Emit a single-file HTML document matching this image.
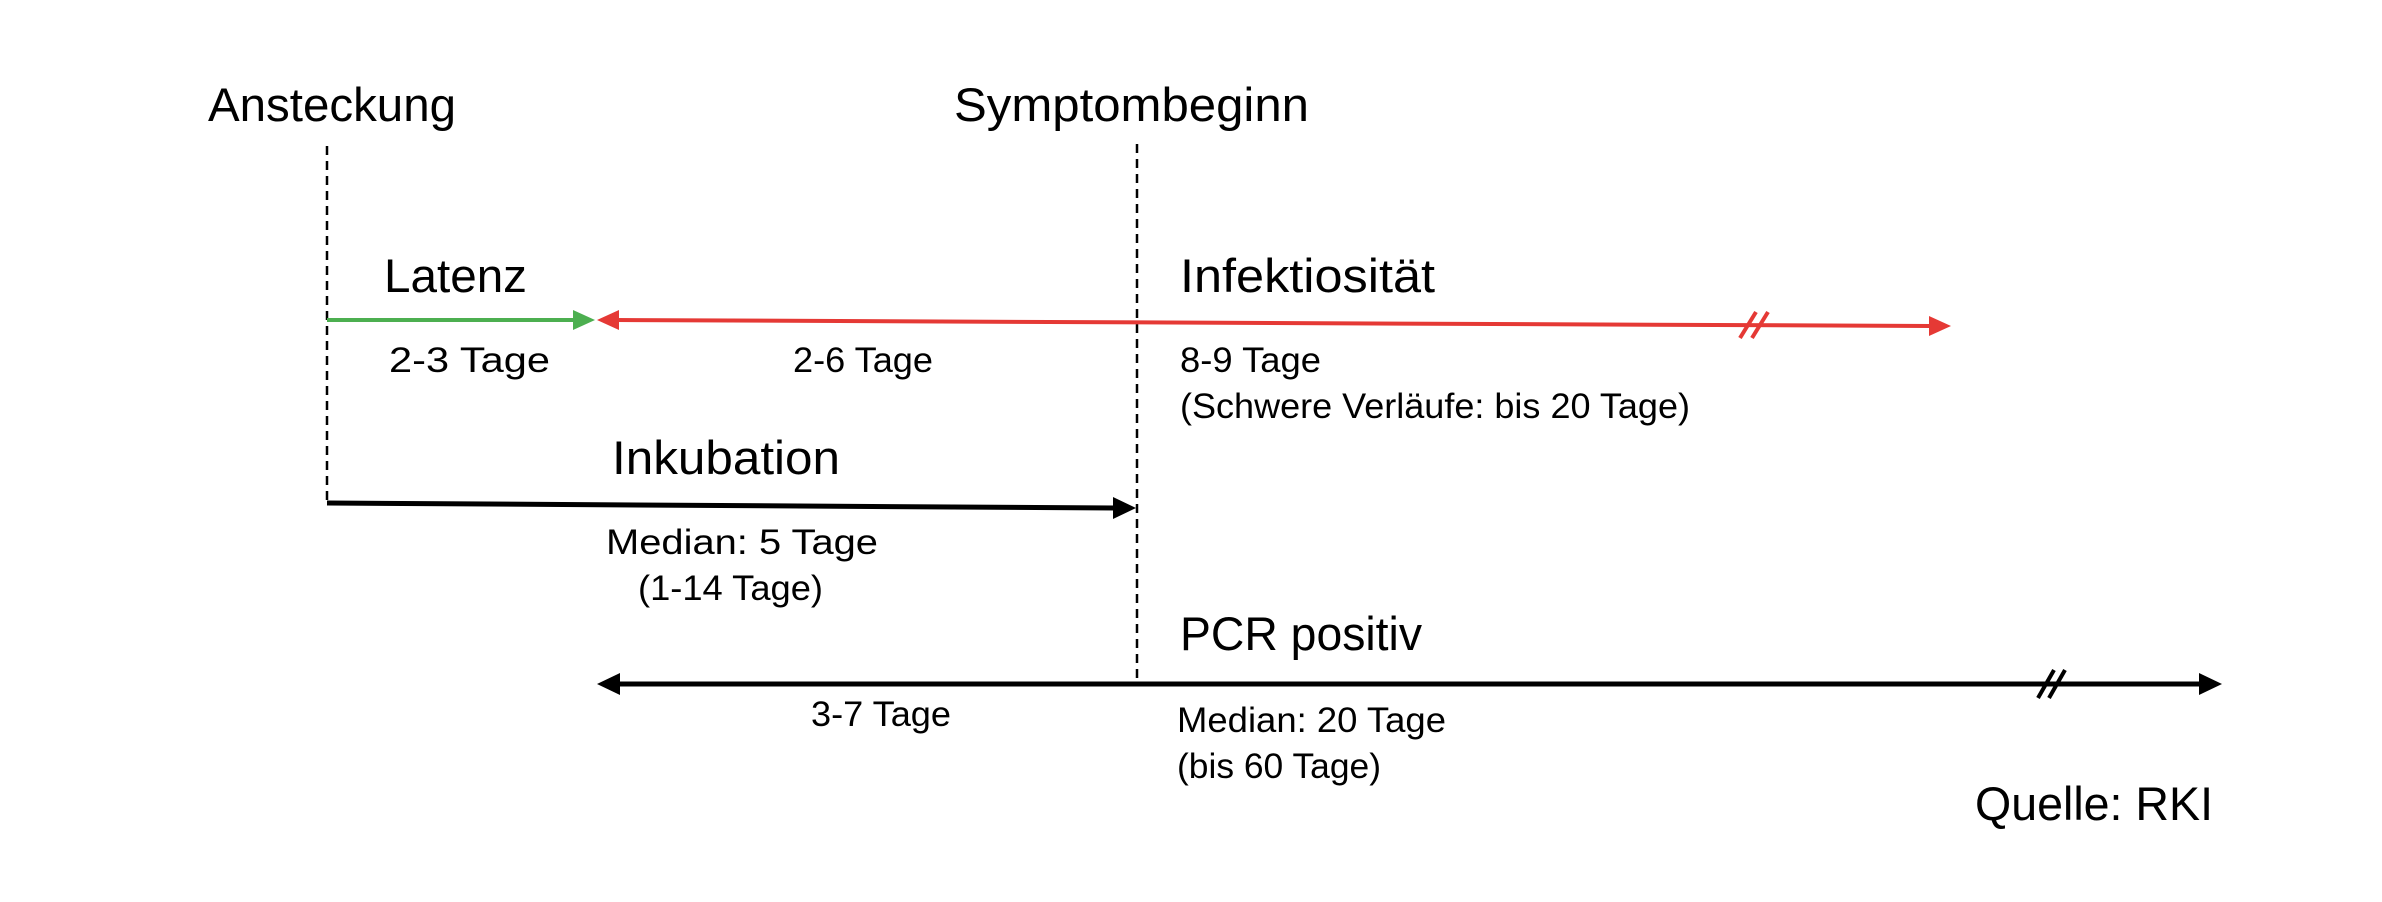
<!DOCTYPE html>
<html><head><meta charset="utf-8"><style>
html,body{margin:0;padding:0;background:#fff;}
svg{display:block;}
text{font-family:"Liberation Sans",sans-serif;fill:#000;}
.b{font-size:47px;}
.s{font-size:35px;}
</style></head><body>
<svg width="2382" height="902" viewBox="0 0 2382 902" xmlns="http://www.w3.org/2000/svg">
<text class="b" x="208" y="121" textLength="248" lengthAdjust="spacingAndGlyphs">Ansteckung</text>
<text class="b" x="954" y="121" textLength="355" lengthAdjust="spacingAndGlyphs">Symptombeginn</text>
<line x1="327" y1="146" x2="327" y2="503" stroke="#000" stroke-width="2.5" stroke-dasharray="9,6"/>
<line x1="1137" y1="144" x2="1137" y2="686" stroke="#000" stroke-width="2.5" stroke-dasharray="9,6"/>

<text class="b" x="384" y="292" textLength="143" lengthAdjust="spacingAndGlyphs">Latenz</text>
<line x1="327" y1="320" x2="575" y2="320" stroke="#4caf50" stroke-width="4"/>
<polygon points="595,320 573,310 573,330" fill="#4caf50"/>
<line x1="615" y1="320" x2="1930" y2="326" stroke="#e53935" stroke-width="4"/>
<polygon points="597,320 619,310 619,330" fill="#e53935"/>
<polygon points="1951,326 1929,316 1929,336" fill="#e53935"/>
<line x1="1740" y1="338" x2="1756" y2="312" stroke="#e53935" stroke-width="4"/>
<line x1="1752" y1="338" x2="1768" y2="312" stroke="#e53935" stroke-width="4"/>

<text class="s" x="389" y="372" textLength="161" lengthAdjust="spacingAndGlyphs">2-3 Tage</text>
<text class="s" x="793" y="372" textLength="140" lengthAdjust="spacingAndGlyphs">2-6 Tage</text>
<text class="b" x="1180" y="292" textLength="255" lengthAdjust="spacingAndGlyphs">Infektiosität</text>
<text class="s" x="1180" y="372" textLength="141" lengthAdjust="spacingAndGlyphs">8-9 Tage</text>
<text class="s" x="1180" y="418" textLength="510" lengthAdjust="spacingAndGlyphs">(Schwere Verläufe: bis 20 Tage)</text>

<text class="b" x="612" y="474" textLength="228" lengthAdjust="spacingAndGlyphs">Inkubation</text>
<line x1="327" y1="503" x2="1115" y2="508" stroke="#000" stroke-width="5"/>
<polygon points="1136,508 1113,497 1113,519" fill="#000"/>
<text class="s" x="606" y="554" textLength="272" lengthAdjust="spacingAndGlyphs">Median: 5 Tage</text>
<text class="s" x="638" y="600" textLength="185" lengthAdjust="spacingAndGlyphs">(1-14 Tage)</text>

<text class="b" x="1180" y="650" textLength="242" lengthAdjust="spacingAndGlyphs">PCR positiv</text>
<line x1="615" y1="684" x2="2200" y2="684" stroke="#000" stroke-width="5"/>
<polygon points="597,684 620,673 620,695" fill="#000"/>
<polygon points="2222,684 2199,673 2199,695" fill="#000"/>
<line x1="2038" y1="698" x2="2054" y2="670" stroke="#000" stroke-width="4"/>
<line x1="2049" y1="698" x2="2065" y2="670" stroke="#000" stroke-width="4"/>
<text class="s" x="811" y="726" textLength="140" lengthAdjust="spacingAndGlyphs">3-7 Tage</text>
<text class="s" x="1177" y="732" textLength="269" lengthAdjust="spacingAndGlyphs">Median: 20 Tage</text>
<text class="s" x="1177" y="778" textLength="204" lengthAdjust="spacingAndGlyphs">(bis 60 Tage)</text>

<text class="b" x="1975" y="820" textLength="238" lengthAdjust="spacingAndGlyphs">Quelle: RKI</text>
</svg>
</body></html>
